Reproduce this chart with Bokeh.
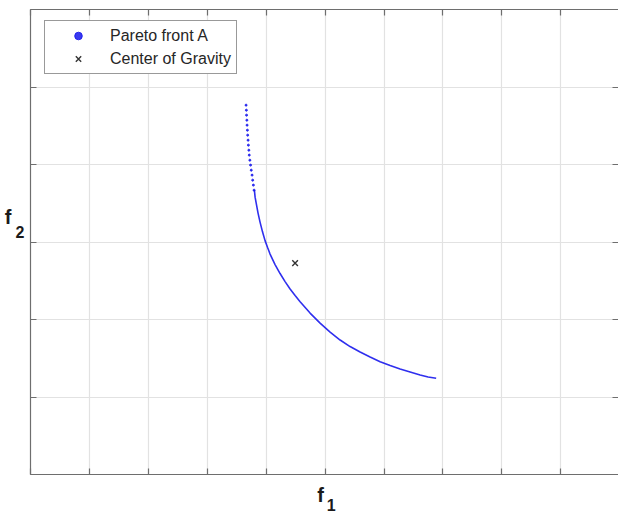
from bokeh.plotting import figure
from bokeh.models import (LinearAxis, FixedTicker, Range1d, Legend, LegendItem,
                          CustomJSTickFormatter)
from bokeh.embed import file_html
from bokeh.resources import INLINE

# Pareto front A: sparse upper part (isolated dots)
sparse_f1 = [3.659, 3.664, 3.667, 3.672, 3.676, 3.681, 3.686, 3.693, 3.698,
             3.706, 3.713, 3.723, 3.735, 3.747, 3.761, 3.771, 3.783, 3.795]
sparse_f2 = [4.766, 4.701, 4.637, 4.572, 4.508, 4.443, 4.379, 4.314, 4.250,
             4.185, 4.121, 4.056, 3.992, 3.927, 3.863, 3.798, 3.734, 3.669]

# Pareto front A: dense lower part
front_f1 = [3.800, 3.812, 3.837, 3.862, 3.896, 3.939, 3.981, 4.024, 4.066,
            4.151, 4.236, 4.321, 4.406, 4.491, 4.576, 4.745, 4.915, 5.085,
            5.255, 5.424, 5.594, 5.764, 5.934, 6.104, 6.273, 6.443, 6.613,
            6.749, 6.885]
front_f2 = [3.669, 3.579, 3.476, 3.373, 3.257, 3.128, 3.018, 2.928, 2.844,
            2.709, 2.593, 2.489, 2.393, 2.309, 2.229, 2.083, 1.954, 1.838,
            1.735, 1.651, 1.580, 1.516, 1.455, 1.406, 1.361, 1.322, 1.283,
            1.258, 1.241]

# Center of gravity
cog_f1 = [4.491]
cog_f2 = [2.728]

x_ticks = list(range(0, 11))
y_ticks = list(range(0, 7))

AX = "#6e6e6e"
BLUE = "#1818ec"
TXT = "#1a1a1a"
FONT = "Liberation Sans"

p = figure(width=618, height=513, output_backend="svg", toolbar_location=None,
           x_range=Range1d(0, 9.98), y_range=Range1d(0, 6),
           min_border_left=30, min_border_right=0, min_border_top=9,
           min_border_bottom=38, background_fill_color="white",
           border_fill_color="white")
p.outline_line_color = None


def style_axis(ax, ticks, line=True):
    ax.ticker = FixedTicker(ticks=ticks)
    ax.formatter = CustomJSTickFormatter(code="return ''")
    ax.major_label_standoff = 0
    ax.major_label_text_font_size = "0px"
    ax.major_tick_in = 6
    ax.major_tick_out = 0
    ax.minor_tick_line_color = None
    ax.axis_line_color = AX if line else None
    ax.axis_line_width = 1.2
    ax.major_tick_line_color = AX
    ax.major_tick_line_width = 1.2
    ax.axis_label = None


def text_axis(where, pos, text, size, standoff):
    ax = LinearAxis()
    ax.ticker = FixedTicker(ticks=[pos])
    ax.formatter = CustomJSTickFormatter(code="return '%s'" % text)
    ax.major_label_text_font = FONT
    ax.major_label_text_font_size = size
    ax.major_label_text_font_style = "bold"
    ax.major_label_text_color = TXT
    ax.major_label_standoff = standoff
    ax.major_tick_in = 0
    ax.major_tick_out = 0
    ax.major_tick_line_color = None
    ax.minor_tick_line_color = None
    ax.axis_line_color = None
    ax.axis_label = None
    p.add_layout(ax, where)


style_axis(p.xaxis[0], x_ticks)
style_axis(p.yaxis[0], y_ticks)
top_ax = LinearAxis()
right_ax = LinearAxis()
style_axis(top_ax, x_ticks)
style_axis(right_ax, y_ticks, line=False)
p.add_layout(top_ax, "above")
p.add_layout(right_ax, "right")

# axis titles f_1 and f_2 (letter and subscript as separate texts)
text_axis("below", 4.924, "f", "20px", 9)
text_axis("below", 5.102, "1", "16px", -10)
text_axis("left", 3.135, "2", "16px", 6)
text_axis("left", 3.322, "f", "20px", 1)

p.xgrid.ticker = FixedTicker(ticks=x_ticks)
p.ygrid.ticker = FixedTicker(ticks=y_ticks)
p.grid.grid_line_color = "#e2e2e2"
p.grid.grid_line_width = 1.2

p.line(front_f1, front_f2, line_color=BLUE, line_width=1.6, line_alpha=0.9)
r_dots = p.scatter(sparse_f1, sparse_f2, marker="circle", size=2.0,
                   fill_color=BLUE, line_color=BLUE, fill_alpha=0.85,
                   line_alpha=0.85)
r_cog = p.scatter(cog_f1, cog_f2, marker="x", size=8, line_color="#333333",
                  line_width=1.4)

legend = Legend(items=[LegendItem(label="Pareto front A", renderers=[r_dots]),
                       LegendItem(label="Center of Gravity", renderers=[r_cog])],
                location=(14, 400), orientation="vertical")
legend.label_text_font = FONT
legend.label_text_font_size = "16px"
legend.label_text_color = "#262626"
legend.border_line_color = "#333333"
legend.border_line_width = 1
legend.background_fill_color = "white"
legend.background_fill_alpha = 1
legend.padding = 5
legend.margin = 0
legend.spacing = 4
legend.glyph_width = 56
legend.glyph_height = 19
legend.label_height = 19
legend.label_standoff = 4
p.add_layout(legend)

open("out.html", "w").write(file_html(p, INLINE))
